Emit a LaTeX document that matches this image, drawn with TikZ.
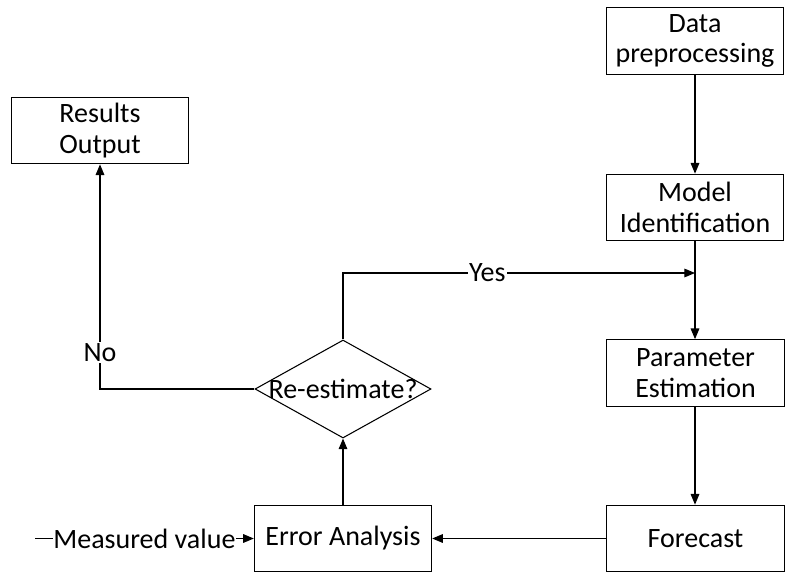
\documentclass[tikz,border=0pt]{standalone}
\usepackage{fontspec}
\setmainfont{Carlito}
\usetikzlibrary{arrows.meta,shapes.geometric}
\begin{document}
\begin{tikzpicture}[x=0.75pt,y=-0.75pt,
  every node/.style={font=\fontsize{21}{23}\selectfont},
  box/.style={draw,line width=0.8pt,minimum width=133pt,minimum height=50pt,inner sep=0pt,align=center},
  dec/.style={draw,diamond,line width=0.8pt,minimum width=132pt,minimum height=73.5pt,inner sep=0pt},
  conn/.style={line width=0.8pt},
  arr/.style={conn,-{Triangle[length=8pt,width=6.5pt]}},
  lbl/.style={fill=white,inner sep=1pt}]
\useasboundingbox (0,0) rectangle (787,574);
\node[box] (data) at (695,41) {Data\\preprocessing};
\node[box] (model) at (695,207.5) {Model\\Identification};
\node[box] (param) at (695.5,373) {Parameter\\Estimation};
\node[box] (fore) at (695.5,538.5) {Forecast};
\node[box] (err) at (343,538.5) {Error Analysis};
\node[box] (res) at (100,130.5) {Results\\Output};
\node[dec] (dia) at (343,389) {\makebox[0pt]{Re-estimate?}};
\coordinate (ymerge) at (695,273);
\coordinate (meas) at (35,538.5);
\draw[arr] (data) -- (model);
\draw[arr] (model.south) -- (param.north -| model.south);
\draw[arr] (param.south -| model.south) -- (fore.north -| model.south);
\draw[arr] (fore) -- (err);
\draw[arr] (err) -- (dia);
\draw[arr] (dia.north) |- node[lbl,pos=0.705] {Yes} (ymerge);
\draw[arr] (dia.west) -| node[lbl,pos=0.582] {No} (res.south);
\draw[arr] (meas) -- node[lbl,inner sep=0.5pt] {Measured value} (err.west);
\end{tikzpicture}
\end{document}
